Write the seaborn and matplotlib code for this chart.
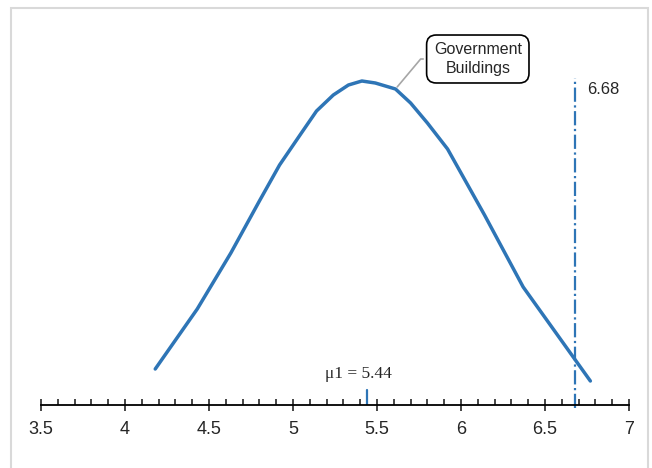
import numpy as np
import pandas as pd
import seaborn as sns
import matplotlib.pyplot as plt
from matplotlib.patches import Rectangle
from matplotlib.ticker import MultipleLocator

# values
x_vals = [4.18, 4.43, 4.63, 4.80, 4.92, 5.05, 5.14, 5.24, 5.33, 5.41, 5.49, 5.61, 5.70,
          5.80, 5.92, 6.14, 6.37, 6.77]
density = [0.09, 0.24, 0.38, 0.51, 0.60, 0.68, 0.735, 0.775, 0.80, 0.81, 0.805, 0.79, 0.755,
           0.705, 0.64, 0.475, 0.295, 0.06]
mu1 = 5.44
upper = 6.68
peak_label = 'Government\nBuildings'

df = pd.DataFrame({'x': x_vals, 'density': density})
blue = '#2E75B6'

sns.set_style('white')
plt.rcParams['font.family'] = ['Liberation Sans', 'DejaVu Sans']

fig = plt.figure(figsize=(6.52, 4.68), dpi=100)
ax = fig.add_axes([41 / 652, 63 / 468, 588 / 652, 375 / 468])

# light frame around the chart
fig.patches.append(Rectangle((11 / 652, -0.05), 637 / 652, 1.05 - 8 / 468,
                             transform=fig.transFigure, fill=False,
                             edgecolor='#d9d9d9', lw=1.5))

sns.lineplot(data=df, x='x', y='density', ax=ax, color=blue, lw=2.5)

# upper limit line
ax.plot([upper, upper], [-0.008, 0.817], color=blue, lw=1.6, linestyle='-.', clip_on=False)
ax.text(upper + 0.07, 0.79, f'{upper:.2f}', fontsize=12, va='center', ha='left')

# mean marker
ax.plot([mu1, mu1], [0, 0.038], color=blue, lw=1.6)
ax.text(mu1 - 0.05, 0.077, f'\u03bc1 = {mu1:.2f}', fontsize=12.5, ha='center', va='center',
        family='Liberation Serif')

ax.annotate(peak_label, xy=(5.61, 0.79), xytext=(6.10, 0.865),
            fontsize=11.5, ha='center', va='center', linespacing=1.3,
            bbox=dict(boxstyle='round,pad=0.45,rounding_size=0.6', fc='white', ec='black', lw=1.2),
            arrowprops=dict(arrowstyle='-', color='#a6a6a6', lw=1.2,
                            connectionstyle='angle,angleA=0,angleB=50,rad=0'))

ax.set_xlim(3.5, 7)
ax.set_ylim(0, 0.9375)
ax.xaxis.set_major_locator(MultipleLocator(0.5))
ax.xaxis.set_minor_locator(MultipleLocator(0.1))
ax.set_xticks(np.arange(3.5, 7.01, 0.5))
ax.set_xticklabels(['3.5', '4', '4.5', '5', '5.5', '6', '6.5', '7'])
ax.tick_params(axis='x', which='major', direction='inout', length=9, width=1.2,
               labelsize=13, pad=7, bottom=True)
ax.tick_params(axis='x', which='minor', direction='in', length=4, width=1.2, bottom=True)
ax.set_yticks([])
ax.set_xlabel('')
ax.set_ylabel('')
for side in ['top', 'right', 'left']:
    ax.spines[side].set_visible(False)
ax.spines['bottom'].set_color('black')
ax.spines['bottom'].set_linewidth(1.3)

fig.savefig('out.png', dpi=100)
